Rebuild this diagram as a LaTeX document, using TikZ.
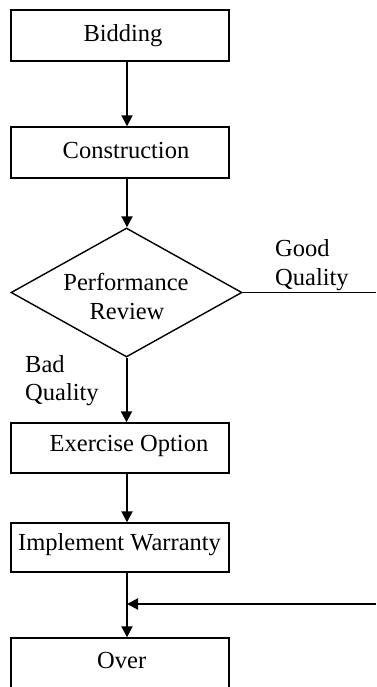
\documentclass[tikz,border=0pt]{standalone}
\usepackage{fontspec}
\setmainfont{Liberation Serif}
\usetikzlibrary{shapes.geometric,arrows.meta}
\begin{document}
\begin{tikzpicture}[x=1pt,y=-1pt,
  box/.style={draw,line width=1.4pt,rectangle,inner sep=0pt,minimum width=218pt},
  lbl/.style={anchor=base,inner sep=0pt,font=\fontsize{24.5}{28}\selectfont},
  lblw/.style={anchor=base west,inner sep=0pt,font=\fontsize{24.5}{28}\selectfont},
  arr/.style={line width=2pt,-{Triangle[length=11pt,width=11pt]}},
  ln/.style={line width=1.8pt}]
\useasboundingbox (0,0) rectangle (376,687);
\clip (0,0) rectangle (376,687);
% boxes
\node[box,minimum height=51pt] (bid) at (120,35.5) {};
\node[box,minimum height=51pt] (con) at (120,152.5) {};
\node[draw,line width=1.4pt,shape=diamond,inner sep=0pt,aspect=1.79,minimum width=231pt,minimum height=129pt] (rev) at (126.5,292.5) {};
\node[box,minimum height=50pt] (exo) at (120,448) {};
\node[box,minimum height=49pt] (imp) at (120,547.5) {};
\node[box,minimum height=54pt] (ovr) at (120,665) {};
% texts
\node[lbl] (tbid) at (123,41.7) {Bidding};
\node[lbl] (tcon) at (126,158) {Construction};
\node[lbl] (trev1) at (126,290.7) {Performance};
\node[lbl] (trev2) at (127,319.3) {Review};
\node[lbl] (texo) at (129,451) {Exercise Option};
\node[lbl] (timp) at (119.5,550) {Implement Warranty};
\node[lbl] (tovr) at (121.7,668) {Over};
\node[lblw] (tgood1) at (275,256) {Good};
\node[lblw] (tgood2) at (275,285) {Quality};
\node[lblw] (tbad1) at (25,372) {Bad};
\node[lblw] (tbad2) at (25,400) {Quality};
% connector coordinates
\coordinate (ax) at (127,0);
\coordinate (gout) at (376,292.5);
\coordinate (gin) at (376,604);
\coordinate (jn) at (127,604);
% connectors
\draw[arr] (bid.south -| ax) -- (con.north -| ax);
\draw[arr] (con.south -| ax) -- (rev.north -| ax);
\draw[arr] (rev.south) -- (exo.north -| rev.south);
\draw[arr] (exo.south -| ax) -- (imp.north -| ax);
\draw[ln] (imp.south -| ax) -- (jn);
\draw[arr] (jn) -- (ovr.north -| ax);
\draw[arr] (gin) -- (jn);
\draw[ln] (rev.east) -- (gout);
\end{tikzpicture}
\end{document}
